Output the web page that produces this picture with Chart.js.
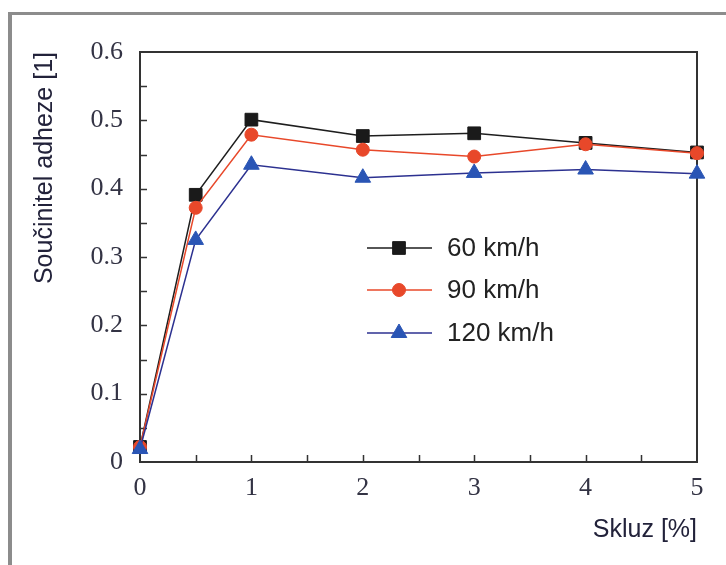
<!DOCTYPE html>
<html>
<head>
<meta charset="utf-8">
<script src="https://cdn.jsdelivr.net/npm/chart.js@4/dist/chart.umd.min.js"></script>
<style>
  html, body { margin: 0; padding: 0; background: #fff; }
  canvas { display: block; }
</style>
</head>
<body>
<canvas id="adhezeChart" width="726" height="565"></canvas>
<script>
// data
const skluz = [0, 0.5, 1, 2, 3, 4, 5];
const rychlosti = ['60 km/h', '90 km/h', '120 km/h'];
const adheze60 = [0.022, 0.391, 0.501, 0.477, 0.481, 0.467, 0.453];
const adheze90 = [0.022, 0.372, 0.479, 0.457, 0.447, 0.465, 0.452];
const adheze120 = [0.019, 0.325, 0.435, 0.416, 0.423, 0.428, 0.422];
const yTicks = [0, 0.1, 0.2, 0.3, 0.4, 0.5, 0.6];
const xTicks = [0, 1, 2, 3, 4, 5];

const toPoints = arr => arr.map((v, i) => ({ x: skluz[i], y: v }));

const serif = "'Liberation Serif', 'Times New Roman', serif";
const sans = "'Liberation Sans', Arial, sans-serif";

// ramecek, osy s vnitrnimi carkami, legenda
const framePlugin = {
    id: 'frame',
    beforeDraw(chart) {
        const ctx = chart.ctx;
        ctx.save();
        ctx.fillStyle = '#ffffff';
        ctx.fillRect(0, 0, chart.width, chart.height);
        ctx.fillStyle = '#8c8c8c';
        ctx.fillRect(8, 12, chart.width - 8, 3);
        ctx.fillRect(8, 12, 4, chart.height - 12);
        ctx.restore();
    },
    beforeDatasetsDraw(chart) {
        const ctx = chart.ctx;
        const a = chart.chartArea;
        const xs = chart.scales.x, ys = chart.scales.y;
        ctx.save();
        ctx.strokeStyle = '#333333';
        ctx.lineWidth = 2;
        ctx.strokeRect(a.left, a.top, a.right - a.left, a.bottom - a.top);
        ctx.lineWidth = 1.5;
        ctx.beginPath();
        for (let i = 1; i < 12; i++) {
            const py = Math.round(ys.getPixelForValue(i * 0.05)) + 0.5;
            ctx.moveTo(a.left, py);
            ctx.lineTo(a.left + 7, py);
        }
        for (let i = 1; i < 10; i++) {
            const px = Math.round(xs.getPixelForValue(i * 0.5)) + 0.5;
            ctx.moveTo(px, a.bottom);
            ctx.lineTo(px, a.bottom - 7);
        }
        ctx.stroke();
        ctx.restore();
    },
    afterDraw(chart) {
        const ctx = chart.ctx;
        const rows = [248, 290, 333];
        ctx.save();
        chart.data.datasets.forEach((ds, i) => {
            const y = rows[i];
            ctx.strokeStyle = ds.borderColor;
            ctx.lineWidth = ds.borderWidth;
            ctx.beginPath();
            ctx.moveTo(367, y);
            ctx.lineTo(432, y);
            ctx.stroke();
            ctx.fillStyle = ds.pointBackgroundColor;
            ctx.strokeStyle = ds.pointBorderColor;
            ctx.lineWidth = 1;
            Chart.helpers.drawPoint(ctx, {
                pointStyle: ds.pointStyle,
                radius: ds.pointRadius,
                rotation: 0,
                borderWidth: 1
            }, 399, y);
            ctx.fillStyle = '#222222';
            ctx.font = '26px ' + sans;
            ctx.textAlign = 'left';
            ctx.textBaseline = 'middle';
            ctx.fillText(ds.label, 447, y + 1);
        });
        ctx.restore();
    }
};

new Chart(document.getElementById('adhezeChart'), {
    type: 'line',
    data: {
        datasets: [
            {
                label: rychlosti[0],
                data: toPoints(adheze60),
                borderColor: '#1e1e1e',
                borderWidth: 1.5,
                pointStyle: 'rect',
                pointRadius: 9,
                pointBackgroundColor: '#1a1a1a',
                pointBorderColor: '#1a1a1a',
                pointBorderWidth: 1,
                order: 3,
                clip: false
            },
            {
                label: rychlosti[1],
                data: toPoints(adheze90),
                borderColor: '#e8482a',
                borderWidth: 1.5,
                pointStyle: 'circle',
                pointRadius: 6.5,
                pointBackgroundColor: '#e8482a',
                pointBorderColor: '#e8482a',
                pointBorderWidth: 1,
                order: 2,
                clip: false
            },
            {
                label: rychlosti[2],
                data: toPoints(adheze120),
                borderColor: '#2c3190',
                borderWidth: 1.5,
                pointStyle: 'triangle',
                pointRadius: 9,
                pointBackgroundColor: '#2a55b5',
                pointBorderColor: '#2a55b5',
                pointBorderWidth: 1,
                order: 1,
                clip: false
            }
        ]
    },
    options: {
        responsive: false,
        animation: false,
        layout: { padding: { left: 0, top: 52, right: 29, bottom: 0 } },
        plugins: {
            legend: { display: false },
            tooltip: { enabled: false }
        },
        scales: {
            x: {
                type: 'linear',
                min: 0,
                max: 5,
                afterFit: s => { s.height = 103; },
                afterBuildTicks: s => { s.ticks = xTicks.map(v => ({ value: v })); },
                grid: { display: false, drawTicks: false },
                border: { display: false },
                ticks: {
                    padding: 11,
                    color: '#333344',
                    font: { family: serif, size: 26 },
                    callback: v => String(v)
                },
                title: {
                    display: true,
                    text: 'Skluz [%]',
                    align: 'end',
                    color: '#22223a',
                    font: { family: sans, size: 25 },
                    padding: { top: 0, bottom: 20 }
                }
            },
            y: {
                type: 'linear',
                min: 0,
                max: 0.6,
                afterFit: s => { s.width = 140; },
                afterBuildTicks: s => { s.ticks = yTicks.map(v => ({ value: v })); },
                grid: { display: false, drawTicks: false },
                border: { display: false },
                ticks: {
                    padding: 17,
                    color: '#333344',
                    font: { family: serif, size: 26 },
                    callback: v => v === 0 ? '0' : v.toFixed(1)
                },
                title: {
                    display: true,
                    text: 'Součinitel adheze [1]',
                    align: 'end',
                    color: '#22223a',
                    font: { family: sans, size: 25 },
                    padding: { top: 30, bottom: 0 }
                }
            }
        }
    },
    plugins: [framePlugin]
});
</script>
</body>
</html>
